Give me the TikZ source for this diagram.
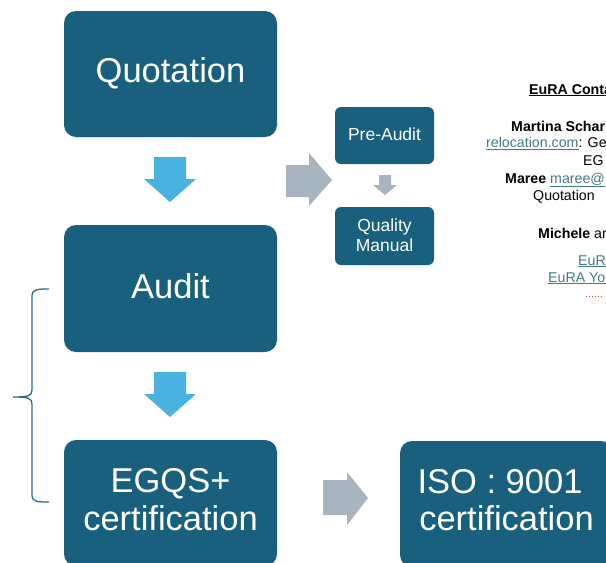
\documentclass[tikz,border=0pt]{standalone}
\usepackage{fontspec}
\setmainfont{Liberation Sans}
\definecolor{boxc}{RGB}{24,96,125}
\definecolor{bluearr}{RGB}{74,178,224}
\definecolor{grayarr}{RGB}{168,180,192}
\definecolor{bracec}{RGB}{47,107,143}
\definecolor{linkc}{RGB}{70,120,134}
\newcommand{\lnk}[1]{{\color{linkc}\underline{#1}}}
\tikzset{
  bigbox/.style={fill=boxc, rounded corners=12pt, minimum width=213pt, inner sep=0pt},
  smallbox/.style={fill=boxc, rounded corners=6pt, minimum width=99pt, inner sep=0pt},
  bigtxt/.style={text=white, anchor=base, inner sep=0pt, font=\fontsize{34.5}{40}\selectfont},
  smalltxt/.style={text=white, anchor=base, inner sep=0pt, font=\fontsize{17.5}{21}\selectfont},
  sidetxt/.style={text=black, anchor=base west, inner sep=0pt, font=\fontsize{14.2}{17}\selectfont},
  bluearrow/.style={fill=bluearr},
  grayarrow/.style={fill=grayarr},
  bracestyle/.style={draw=bracec, line width=1.3pt}
}
\begin{document}
\begin{tikzpicture}[x=1pt,y=-1pt]
\useasboundingbox (0,0) rectangle (606,563);
\begin{scope}
\clip (0,0) rectangle (606,563);
% main boxes
\node[bigbox, minimum height=126pt] (quot) at (170.5,74) {};
\node[bigtxt] (quott) at (170.5,82.7) {Quotation};
\node[bigbox, minimum height=127pt] (aud) at (170.5,288.5) {};
\node[bigtxt] (audt) at (170.5,298) {Audit};
\node[bigbox, minimum height=126pt] (egqs) at (170.5,503) {};
\node[bigtxt] (egqst1) at (170.5,492) {EGQS+};
\node[bigtxt] (egqst2) at (170.5,530) {certification};
\node[bigbox, minimum height=126pt] (iso) at (506.5,504) {};
\node[bigtxt] (isot1) at (500,493) {ISO : 9001};
\node[bigtxt] (isot2) at (506.5,530) {certification};
% small boxes
\node[smallbox, minimum height=57pt] (pre) at (384.5,135.5) {};
\node[smalltxt] (pret) at (384.5,140) {Pre-Audit};
\node[smallbox, minimum height=58pt] (qm) at (384.5,236) {};
\node[smalltxt] (qmt1) at (384.5,231) {Quality};
\node[smalltxt] (qmt2) at (384.5,251) {Manual};
% blue down arrows
\fill[bluearrow] (154,157) -- (186,157) -- (186,179) -- (196,179) -- (170,202) -- (144,179) -- (154,179) -- cycle;
\fill[bluearrow] (154,372) -- (186,372) -- (186,394) -- (196,394) -- (170,417) -- (144,394) -- (154,394) -- cycle;
% gray arrows
\fill[grayarrow] (286,165) -- (309,165) -- (309,153) -- (332,180) -- (309,206) -- (309,197) -- (286,197) -- cycle;
\fill[grayarrow] (379,175) -- (391,175) -- (391,185) -- (397,185) -- (385,195) -- (373,185) -- (379,185) -- cycle;
\fill[grayarrow] (323,480) -- (347,480) -- (347,472) -- (368,498) -- (347,525) -- (347,515) -- (323,515) -- cycle;
% brace
\draw[bracestyle] (49,289) .. controls (38,289) and (32,289) .. (32,296) -- (32,390)
  .. controls (32,396) and (28,397) .. (13,397)
  .. controls (28,397) and (32,398) .. (32,404) -- (32,495)
  .. controls (32,502) and (38,502) .. (49,502);
% side text
\node[sidetxt] (c1) at (529,94) {\textbf{\underline{EuRA Conta}}};
\node[sidetxt] (c2) at (511,131) {\textbf{Martina Schar}};
\node[sidetxt] (c3) at (486,147.5) {\lnk{relocation.com}: Ge};
\node[sidetxt] (c4) at (583,165) {EG};
\node[sidetxt] (c5) at (505,183) {\textbf{Maree} \lnk{maree@}};
\node[sidetxt] (c6) at (533,200) {Quotation};
\node[sidetxt] (c7) at (538,238) {\textbf{Michele} an};
\node[sidetxt] (c8) at (578,265) {\lnk{EuRA}};
\node[sidetxt] (c9) at (548,282) {\lnk{EuRA You}};
\draw[red!80, dotted, line width=1pt] (586,296) -- (602,296);
\end{scope}
\end{tikzpicture}
\end{document}
